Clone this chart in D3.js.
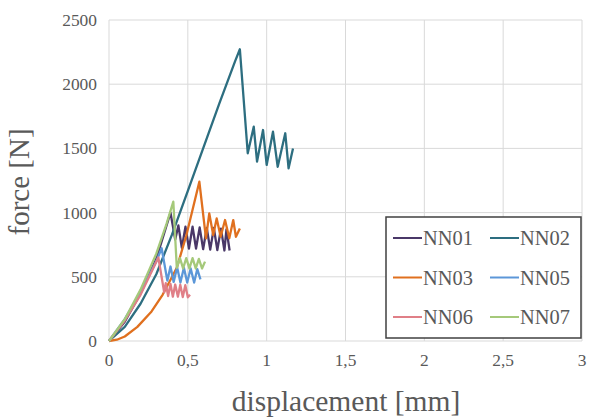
<!DOCTYPE html>
<html>
<head>
    <meta charset="UTF-8">
    <title>force vs displacement</title>
    <style>
        body {
            margin: 0;
            background-color: white;
        }
        svg {
            display: block;
        }
        .grid line {
            stroke: #d9d9d9;
            stroke-width: 1px;
        }
        .series {
            fill: none;
            stroke-width: 2.3px;
            stroke-linejoin: round;
        }
    </style>
</head>
<body>
    <svg id="chart" width="590" height="417"></svg>

    <script src="https://d3js.org/d3.v7.min.js"></script>
    <script>
        // Tick values
        var xTicks = [0, 0.5, 1, 1.5, 2, 2.5, 3];
        var yTicks = [0, 500, 1000, 1500, 2000, 2500];

        // Series names and colours
        var seriesNames = ["NN01", "NN02", "NN03", "NN05", "NN06", "NN07"];
        var seriesColors = ["#4a3868", "#2d6e80", "#e0701f", "#5c97d8", "#e07f87", "#a5c97a"];

        // Measured curves, [displacement mm, force N]
        var nn01 = [[0, 0], [0.1, 150], [0.2, 370], [0.3, 640], [0.39, 1000], [0.42, 790],
            [0.44, 900], [0.462, 725], [0.485, 890], [0.507, 720], [0.53, 890], [0.552, 720],
            [0.575, 885], [0.597, 715], [0.62, 880], [0.642, 712], [0.665, 880], [0.687, 708],
            [0.71, 875], [0.732, 705], [0.745, 870], [0.765, 705]];
        var nn02 = [[0, 0], [0.1, 110], [0.2, 290], [0.3, 520], [0.4, 830], [0.5, 1170],
            [0.6, 1510], [0.7, 1850], [0.8, 2180], [0.83, 2272], [0.88, 1462], [0.918, 1669],
            [0.939, 1397], [0.977, 1643], [1.0, 1371], [1.04, 1630], [1.07, 1357], [1.118, 1618],
            [1.139, 1345], [1.167, 1500]];
        var nn03 = [[0, 0], [0.05, 10], [0.1, 35], [0.18, 110], [0.27, 230], [0.34, 360],
            [0.43, 570], [0.49, 820], [0.573, 1241], [0.615, 800], [0.636, 994], [0.661, 825],
            [0.683, 955], [0.708, 812], [0.736, 942], [0.763, 800], [0.788, 942], [0.805, 812],
            [0.83, 877]];
        var nn05 = [[0, 0], [0.1, 170], [0.2, 380], [0.3, 620], [0.334, 722], [0.37, 470],
            [0.39, 580], [0.41, 460], [0.432, 575], [0.453, 455], [0.475, 570], [0.496, 455],
            [0.518, 565], [0.54, 455], [0.56, 560], [0.58, 480]];
        var nn06 = [[0, 0], [0.1, 160], [0.2, 360], [0.313, 650], [0.35, 380], [0.36, 450],
            [0.375, 350], [0.39, 445], [0.405, 345], [0.42, 440], [0.437, 345], [0.452, 438],
            [0.468, 342], [0.484, 435], [0.5, 340], [0.514, 360]];
        var nn07 = [[0, 0], [0.1, 170], [0.2, 400], [0.3, 680], [0.366, 917], [0.408, 1085],
            [0.43, 570], [0.45, 645], [0.47, 565], [0.49, 645], [0.51, 565], [0.53, 645],
            [0.55, 565], [0.57, 640], [0.59, 565], [0.609, 618]];

        var seriesData = [nn01, nn02, nn03, nn05, nn06, nn07];

        var serif = "'Liberation Serif', 'Times New Roman', Times, serif";
        var textGray = "#595959";

        var svg = d3.select("#chart");

        var x = d3.scaleLinear().domain([0, 3]).range([109, 582]);
        var y = d3.scaleLinear().domain([0, 2500]).range([341, 20]);

        // Gridlines
        var grid = svg.append("g").attr("class", "grid");
        grid.selectAll("line.h")
            .data(yTicks)
            .enter().append("line")
            .attr("class", "h")
            .attr("x1", x(0)).attr("x2", x(3))
            .attr("y1", function(d) { return y(d); })
            .attr("y2", function(d) { return y(d); });
        grid.selectAll("line.v")
            .data(xTicks)
            .enter().append("line")
            .attr("class", "v")
            .attr("y1", y(0)).attr("y2", y(2500))
            .attr("x1", function(d) { return x(d); })
            .attr("x2", function(d) { return x(d); });

        // Tick labels
        svg.selectAll("text.ytick")
            .data(yTicks)
            .enter().append("text")
            .attr("class", "ytick")
            .style("font-family", serif)
            .style("font-size", "17.4px")
            .style("fill", textGray)
            .attr("x", 97)
            .attr("y", function(d) { return y(d) + 6; })
            .attr("text-anchor", "end")
            .text(function(d) { return d; });

        svg.selectAll("text.xtick")
            .data(xTicks)
            .enter().append("text")
            .attr("class", "xtick")
            .style("font-family", serif)
            .style("font-size", "17.4px")
            .style("fill", textGray)
            .attr("x", function(d) { return x(d); })
            .attr("y", 366)
            .attr("text-anchor", "middle")
            .text(function(d) { return String(d).replace(".", ","); });

        // Axis titles
        svg.append("text")
            .style("font-family", serif)
            .style("font-size", "29.5px")
            .style("fill", textGray)
            .attr("x", 346)
            .attr("y", 411)
            .attr("text-anchor", "middle")
            .text("displacement [mm]");

        svg.append("text")
            .style("font-family", serif)
            .style("font-size", "29px")
            .style("fill", textGray)
            .attr("transform", "translate(29,182) rotate(-90)")
            .attr("text-anchor", "middle")
            .text("force [N]");

        // Curves
        var line = d3.line()
            .x(function(d) { return x(d[0]); })
            .y(function(d) { return y(d[1]); });

        svg.append("g").selectAll("path")
            .data(seriesData)
            .enter().append("path")
            .attr("class", "series")
            .attr("stroke", function(d, i) { return seriesColors[i]; })
            .attr("d", line);

        // Legend
        var legend = svg.append("g").attr("transform", "translate(386,217)");
        legend.append("rect")
            .attr("width", 195)
            .attr("height", 121)
            .attr("fill", "white")
            .attr("stroke", "#404040")
            .attr("stroke-width", 1.5);

        var items = legend.selectAll("g.item")
            .data(seriesNames)
            .enter().append("g")
            .attr("class", "item")
            .attr("transform", function(d, i) {
                return "translate(" + (7 + (i % 2) * 97) + "," + (21 + Math.floor(i / 2) * 39.5) + ")";
            });
        items.append("line")
            .attr("x1", 0).attr("x2", 29)
            .attr("stroke-width", 2)
            .attr("stroke", function(d, i) { return seriesColors[i]; });
        items.append("text")
            .style("font-family", serif)
            .style("font-size", "20.4px")
            .style("fill", textGray)
            .attr("x", 30)
            .attr("y", 7)
            .text(function(d) { return d; });
    </script>
</body>
</html>
